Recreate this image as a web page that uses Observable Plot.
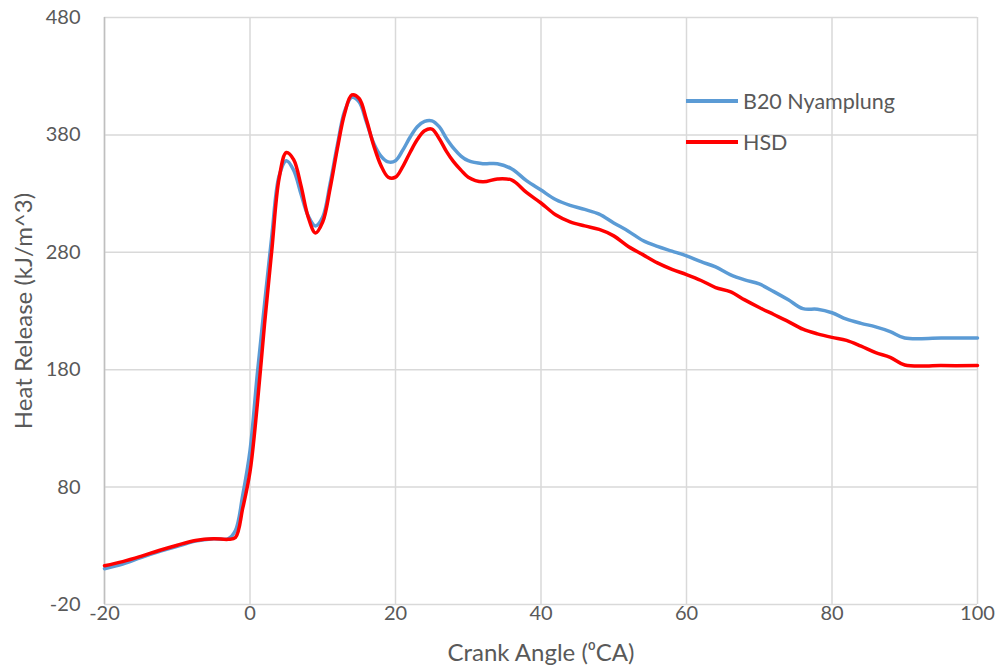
<!DOCTYPE html>
<html>
<head>
<meta charset="utf-8">
<script src="https://cdn.jsdelivr.net/npm/d3@7"></script>
<script src="https://cdn.jsdelivr.net/npm/@observablehq/plot@0.6"></script>
<style>
  html, body { margin: 0; padding: 0; background: #fff; }
  #wrap { position: relative; width: 1002px; height: 665px; font-family: Lato, "Open Sans", sans-serif; }
  #legend { position: absolute; left: 686px; top: 80px; color: #595959; font-size: 21.5px; }
  .item { display: flex; align-items: center; height: 41px; }
  .sw { width: 52px; height: 4px; margin-right: 5px; }
</style>
</head>
<body>
<div id="wrap"></div>
<script>
const angle = [
  -20, -17.5, -15, -12.5, -10, -7.5, -5, -3, -2, -1,
  0, 1, 2, 3, 4, 5, 6, 7, 8, 9,
  10, 11, 12, 13, 14, 15, 16, 17, 18, 19,
  20, 21, 22, 23, 24, 25, 26, 27, 28, 29,
  30, 32, 34, 36, 38, 40, 42, 44,
  46, 48, 50, 52, 54, 56, 58, 60, 62, 64,
  66, 68, 70, 72, 74, 76, 78, 80, 82, 84,
  86, 88, 90, 95, 100
];
const b20 = [
  10.5, 14.5, 20, 25, 29.5, 34, 36, 36, 43, 73,
  111, 176, 236, 294, 345, 358, 350, 330, 311, 302.5,
  310, 338, 371, 400, 412, 408, 391, 373, 362, 357,
  358, 367, 378, 387, 391.5, 392, 387, 377, 368.5, 362,
  358, 355.5, 355.5, 351, 341, 333, 325, 320,
  316.5, 312.5, 305, 298, 290, 285, 281, 277, 272, 267.5,
  261, 256.5, 253, 246.5, 239.5, 232, 231.5, 228.5, 223, 219.5,
  216.5, 212.5, 207, 207, 207
];
const hsd = [
  13, 16.5, 21, 26, 30.5, 34.5, 36, 35.5, 37, 62,
  93, 150, 219, 282, 343, 365, 359, 337, 310, 296.5,
  306, 334, 368, 398, 414, 411, 393, 371, 354, 344,
  344, 353, 365, 376, 383.5, 385, 377, 366, 357, 350,
  344, 340, 342.5, 341.5, 331, 322, 312, 306,
  302.5, 299.5, 294, 285, 278, 271, 265.5, 261, 256, 250,
  246.5, 239.5, 233, 227, 221, 214.5, 210.5, 207.5, 205, 200,
  194.5, 190.5, 184, 183.5, 183.5
];
const seriesNames = ["B20 Nyamplung", "HSD"];
const seriesColors = ["#5b9bd5", "#ff0000"];
const xTicks = [-20, 0, 20, 40, 60, 80, 100];
const yTicks = [-20, 80, 180, 280, 380, 480];

const rows = [];
angle.forEach((a, i) => {
  rows.push({angle: a, value: b20[i], series: seriesNames[0]});
  rows.push({angle: a, value: hsd[i], series: seriesNames[1]});
});

const chart = Plot.plot({
  width: 1002,
  height: 665,
  marginLeft: 104,
  marginRight: 25,
  marginTop: 17,
  marginBottom: 61,
  style: {fontFamily: "Lato, 'Open Sans', sans-serif", fontSize: "20px", color: "#595959", background: "#fff"},
  x: {domain: [-20, 100], ticks: xTicks},
  y: {domain: [-20, 480], ticks: yTicks},
  color: {domain: seriesNames, range: seriesColors},
  marks: [
    Plot.gridX(xTicks, {stroke: "#d9d9d9", strokeOpacity: 1, strokeWidth: 1.5}),
    Plot.gridY(yTicks, {stroke: "#d9d9d9", strokeOpacity: 1, strokeWidth: 1.5}),
    Plot.ruleX([-20], {stroke: "#bfbfbf", strokeWidth: 1.5}),
    Plot.axisX(xTicks, {tickSize: 0, tickPadding: 1, fill: "#595959", fontSize: 20, tickFormat: d => String(d),
      label: null}),
    Plot.axisY(yTicks, {tickSize: 0, tickPadding: 24, fill: "#595959", fontSize: 20, tickFormat: d => String(d),
      label: null}),
    Plot.axisY([], {tickSize: 0, fill: "#595959", fontSize: 24,
      label: "Heat Release (kJ/m^3)", labelAnchor: "center", labelArrow: "none", labelOffset: 90}),
    Plot.text(["Crank Angle (\u2070CA)"], {frameAnchor: "bottom", dy: 49, fontSize: 24, fill: "#595959", lineAnchor: "middle"}),
    Plot.line(rows.filter(d => d.series === seriesNames[0]), {x: "angle", y: "value", stroke: "series", strokeWidth: 3.5, curve: "catmull-rom"}),
    Plot.line(rows.filter(d => d.series === seriesNames[1]), {x: "angle", y: "value", stroke: "series", strokeWidth: 3.5, curve: "catmull-rom"})
  ]
});

const wrap = document.getElementById("wrap");
wrap.appendChild(chart);
const legend = document.createElement("div");
legend.id = "legend";
seriesNames.forEach((n, i) => {
  const it = document.createElement("div");
  it.className = "item";
  it.innerHTML = `<span class="sw" style="background:${seriesColors[i]}"></span><span>${n}</span>`;
  legend.appendChild(it);
});
wrap.appendChild(legend);
</script>
</body>
</html>
